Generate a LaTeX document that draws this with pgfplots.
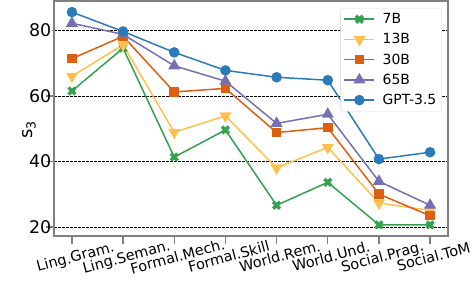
\documentclass[border=0pt]{standalone}
\usepackage{fontspec}
\setmainfont{DejaVu Sans}
\usepackage{pgfplots}
\pgfplotsset{compat=1.18}
\definecolor{cG}{HTML}{33A150}
\definecolor{cY}{HTML}{FFC04D}
\definecolor{cO}{HTML}{DD5F0F}
\definecolor{cP}{HTML}{7570B3}
\definecolor{cB}{HTML}{2B7BBA}
\definecolor{spine}{HTML}{808080}
\pgfdeclareplotmark{Xfill}{%
  \pgftransformrotate{45}%
  \pgfpathmoveto{\pgfqpoint{0.32\pgfplotmarksize}{0.32\pgfplotmarksize}}%
  \pgfpathlineto{\pgfqpoint{0.32\pgfplotmarksize}{\pgfplotmarksize}}%
  \pgfpathlineto{\pgfqpoint{-0.32\pgfplotmarksize}{\pgfplotmarksize}}%
  \pgfpathlineto{\pgfqpoint{-0.32\pgfplotmarksize}{0.32\pgfplotmarksize}}%
  \pgfpathlineto{\pgfqpoint{-\pgfplotmarksize}{0.32\pgfplotmarksize}}%
  \pgfpathlineto{\pgfqpoint{-\pgfplotmarksize}{-0.32\pgfplotmarksize}}%
  \pgfpathlineto{\pgfqpoint{-0.32\pgfplotmarksize}{-0.32\pgfplotmarksize}}%
  \pgfpathlineto{\pgfqpoint{-0.32\pgfplotmarksize}{-\pgfplotmarksize}}%
  \pgfpathlineto{\pgfqpoint{0.32\pgfplotmarksize}{-\pgfplotmarksize}}%
  \pgfpathlineto{\pgfqpoint{0.32\pgfplotmarksize}{-0.32\pgfplotmarksize}}%
  \pgfpathlineto{\pgfqpoint{\pgfplotmarksize}{-0.32\pgfplotmarksize}}%
  \pgfpathlineto{\pgfqpoint{\pgfplotmarksize}{0.32\pgfplotmarksize}}%
  \pgfpathclose
  \pgfusepathqfillstroke
}
\begin{document}
\begin{tikzpicture}
\begin{axis}[
  name=ax,
  scale only axis,
  width=394bp, height=235bp,
  xmin=-0.35, xmax=7.35,
  ymin=17.2, ymax=89,
  xtick={0,1,2,3,4,5,6,7},
  xticklabels={Ling.Gram.,Ling.Seman.,Formal.Mech.,Formal.Skill,World.Rem.,World.Und.,Social.Prag.,Social.ToM},
  ytick={20,40,60,80},
  /pgf/number format/assume math mode=true,
  tick align=outside,
  major tick length=8bp,
  xtick pos=bottom, ytick pos=left,
  x tick style={draw=spine, line width=1.4bp},
  y tick style={draw=spine, line width=1.4bp, shorten <=5.5bp},
  axis line style={draw=spine, line width=1.6bp},
  ymajorgrids,
  major grid style={black, line width=0.6bp, dash pattern=on 2.6bp off 1.4bp},
  yticklabel style={font=\fontsize{17.5}{20}\selectfont, inner sep=0pt, xshift=5.5bp},
  xticklabel style={font=\fontsize{14.5}{17}\selectfont, rotate=15, anchor=north, inner sep=0pt, yshift=-7bp},
  ylabel={s\textsubscript{3}},
  every axis y label/.style={at={(ticklabel cs:0.5)}, rotate=90, anchor=center, xshift=-11bp, font=\fontsize{18}{20}\selectfont},
  legend cell align=left,
  legend style={at={(1,1)}, anchor=north east, xshift=-6bp, yshift=-7bp,
    draw=black!15, rounded corners=2.5bp, fill=white,
    font=\fontsize{14}{16}\selectfont, inner xsep=3bp, inner ysep=1bp,
    nodes={inner xsep=2.5bp, inner ysep=4.2bp},
    /tikz/every odd column/.append style={column sep=5bp}},
  legend image code/.code={\draw[mark repeat=2,mark phase=2] plot coordinates {(0bp,0bp)(15bp,0bp)(30bp,0bp)};},
]
\addplot[cG, line width=1.5bp, mark=Xfill, mark size=4.5bp, mark options={solid, fill=cG, draw=cG, line width=0.5bp}]
  coordinates {(0,61.5)(1,74.6)(2,41.3)(3,49.6)(4,26.6)(5,33.6)(6,20.6)(7,20.6)};
\addlegendentry{7B}
\addplot[cY, line width=1.5bp, mark=triangle*, mark size=5.5bp, mark options={solid, fill=cY, draw=cY, rotate=180}]
  coordinates {(0,66.0)(1,75.6)(2,48.9)(3,53.9)(4,38.0)(5,44.3)(6,27.3)(7,25.0)};
\addlegendentry{13B}
\addplot[cO, line width=1.5bp, mark=square*, mark size=4bp, mark options={solid, fill=cO, draw=cO}]
  coordinates {(0,71.4)(1,78.2)(2,61.2)(3,62.3)(4,48.8)(5,50.3)(6,30.0)(7,23.4)};
\addlegendentry{30B}
\addplot[cP, line width=1.5bp, mark=triangle*, mark size=5.5bp, mark options={solid, fill=cP, draw=cP}]
  coordinates {(0,82.2)(1,78.8)(2,69.2)(3,64.5)(4,51.6)(5,54.4)(6,33.9)(7,26.6)};
\addlegendentry{65B}
\addplot[cB, line width=1.5bp, mark=*, mark size=4.5bp, mark options={solid, fill=cB, draw=cB}]
  coordinates {(0,85.6)(1,79.7)(2,73.3)(3,67.8)(4,65.7)(5,64.8)(6,40.7)(7,42.8)};
\addlegendentry{GPT-3.5}
\end{axis}
\pgfresetboundingbox
\path[use as bounding box] ([xshift=-54bp,yshift=-55bp]ax.south west) rectangle ([xshift=28bp,yshift=1bp]ax.north east);
\end{tikzpicture}
\end{document}
